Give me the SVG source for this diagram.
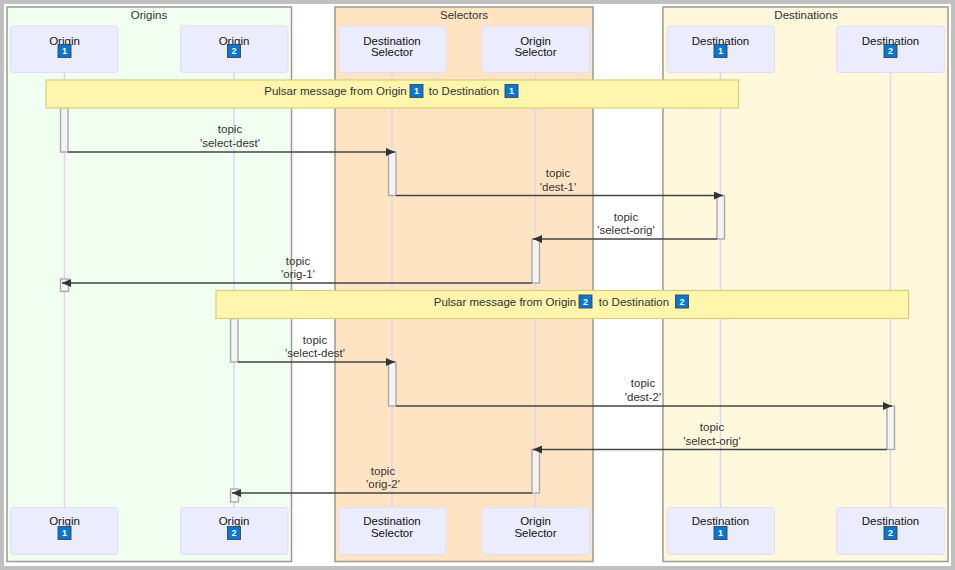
<svg xmlns="http://www.w3.org/2000/svg" width="955" height="570" viewBox="0 0 955 570">
<style>
text{font-family:"Liberation Sans","Noto Sans",sans-serif;font-size:11.5px;fill:#333;text-anchor:middle}
.box{stroke:#9a9a92;stroke-width:1.5}
.actor{fill:#ececff;stroke:#e0dcf5;stroke-width:1}
.actor-t{fill:#111}
.life{stroke:#ddd6f0;stroke-width:1.5;fill:none}
.note{fill:#fff5ad;stroke:#d4d07a;stroke-width:1.2}
.act{fill:#f4f4f4;stroke:#aaa;stroke-width:1.4}
.msg{stroke:#444;stroke-width:1.3;fill:none;marker-end:url(#arrow)}
.kc{fill:#0078d7;stroke:#444;stroke-width:.9}
.kd{fill:#fff;font-size:9px;font-weight:700}
</style>
<defs>
<marker id="arrow" markerUnits="userSpaceOnUse" markerWidth="10" markerHeight="8" refX="9" refY="4" orient="auto"><path d="M0 0L9 4L0 8z" fill="#333"/></marker>
<g id="k1"><rect class="kc" x="-6.500" y="-6.500" width="13" height="13"/><text class="kd" y="3.200">1</text></g>
<g id="k2"><rect class="kc" x="-6.500" y="-6.500" width="13" height="13"/><text class="kd" y="3.200">2</text></g>
</defs>
<rect x="2" y="2" width="951" height="566" fill="#fff" stroke="#c0c0c0" stroke-width="4"/>
<g id="box-origins"><rect class="box" x="7" y="7" width="284.500" height="554.500" fill="#f0fff0"/><text x="149" y="19">Origins</text></g>
<g id="box-selectors"><rect class="box" x="335" y="7" width="258" height="554.500" fill="#ffe4c4"/><text x="464" y="19">Selectors</text></g>
<g id="box-destinations"><rect class="box" x="663" y="7" width="285" height="554.500" fill="#fff8dc"/><text x="806" y="19">Destinations</text></g>
<g id="lifelines">
<path class="life" d="M64.500 72V508M234 72V508M392 72V508M535.500 72V508M720.500 72V508M890.500 72V508"/>
</g>
<g id="actor-origin1-top"><rect class="actor" x="10.500" y="26" width="107.500" height="46.500" rx="3"/><text class="actor-t" x="64.500" y="44.500">Origin</text><use href="#k1" x="64.500" y="51"/></g>
<g id="actor-origin2-top"><rect class="actor" x="180.500" y="26" width="107.500" height="46.500" rx="3"/><text class="actor-t" x="234" y="44.500">Origin</text><use href="#k2" x="234" y="51"/></g>
<g id="actor-destsel-top"><rect class="actor" x="338.500" y="26" width="107.500" height="46.500" rx="3"/><text class="actor-t" x="392" y="44.500">Destination</text><text class="actor-t" x="392" y="55.500">Selector</text></g>
<g id="actor-origsel-top"><rect class="actor" x="482" y="26" width="107.500" height="46.500" rx="3"/><text class="actor-t" x="535.500" y="44.500">Origin</text><text class="actor-t" x="535.500" y="55.500">Selector</text></g>
<g id="actor-dest1-top"><rect class="actor" x="667" y="26" width="107.500" height="46.500" rx="3"/><text class="actor-t" x="720.500" y="44.500">Destination</text><use href="#k1" x="720.500" y="51"/></g>
<g id="actor-dest2-top"><rect class="actor" x="836.500" y="26" width="108" height="46.500" rx="3"/><text class="actor-t" x="890.500" y="44.500">Destination</text><use href="#k2" x="890.500" y="51"/></g>
<g id="actor-origin1-bottom"><rect class="actor" x="10.500" y="507.500" width="107.500" height="47" rx="3"/><text class="actor-t" x="64.500" y="525">Origin</text><use href="#k1" x="64.500" y="533"/></g>
<g id="actor-origin2-bottom"><rect class="actor" x="180.500" y="507.500" width="107.500" height="47" rx="3"/><text class="actor-t" x="234" y="525">Origin</text><use href="#k2" x="234" y="533"/></g>
<g id="actor-destsel-bottom"><rect class="actor" x="338.500" y="507.500" width="107.500" height="47" rx="3"/><text class="actor-t" x="392" y="525">Destination</text><text class="actor-t" x="392" y="537">Selector</text></g>
<g id="actor-origsel-bottom"><rect class="actor" x="482" y="507.500" width="107.500" height="47" rx="3"/><text class="actor-t" x="535.500" y="525">Origin</text><text class="actor-t" x="535.500" y="537">Selector</text></g>
<g id="actor-dest1-bottom"><rect class="actor" x="667" y="507.500" width="107.500" height="47" rx="3"/><text class="actor-t" x="720.500" y="525">Destination</text><use href="#k1" x="720.500" y="533"/></g>
<g id="actor-dest2-bottom"><rect class="actor" x="836.500" y="507.500" width="108" height="47" rx="3"/><text class="actor-t" x="890.500" y="525">Destination</text><use href="#k2" x="890.500" y="533"/></g>
<g id="activations">
<rect class="act" x="60.500" y="108" width="7.500" height="44"/>
<rect class="act" x="388.500" y="152" width="7.500" height="43.500"/>
<rect class="act" x="717" y="195.500" width="7.500" height="43.500"/>
<rect class="act" x="532" y="239" width="7.500" height="44"/>
<rect class="act" x="60.500" y="279" width="8" height="12.500"/>
<rect class="act" x="230.500" y="318.500" width="7.500" height="43.500"/>
<rect class="act" x="388.500" y="362" width="7.500" height="44"/>
<rect class="act" x="887" y="406" width="7.500" height="43.500"/>
<rect class="act" x="532" y="449.500" width="7.500" height="43.500"/>
<rect class="act" x="230.500" y="489" width="8" height="13"/>
</g>
<g id="note-1"><rect class="note" x="46" y="80" width="692.500" height="28"/><text x="335.500" y="95">Pulsar message from Origin</text><use href="#k1" x="416.500" y="91"/><text x="464" y="95">to Destination</text><use href="#k1" x="511.500" y="91"/></g>
<g id="note-2"><rect class="note" x="216" y="290.500" width="692.500" height="28"/><text x="505" y="305.500">Pulsar message from Origin</text><use href="#k2" x="585.500" y="301.500"/><text x="634" y="305.500">to Destination</text><use href="#k2" x="682" y="301.500"/></g>
<g id="connectors">
<path class="msg" d="M68 152H395"/>
<path class="msg" d="M396 195.500H723"/>
<path class="msg" d="M717 239H533"/>
<path class="msg" d="M532 283H62"/>
<path class="msg" d="M238 362H395"/>
<path class="msg" d="M396 406H892"/>
<path class="msg" d="M887 449.500H533"/>
<path class="msg" d="M532 493H232"/>
</g>
<g id="labels">
<text x="230" y="133">topic</text><text x="230" y="147">'select-dest'</text>
<text x="558" y="177">topic</text><text x="558" y="191">'dest-1'</text>
<text x="626" y="221">topic</text><text x="626" y="234">'select-orig'</text>
<text x="298" y="265">topic</text><text x="298" y="278">'orig-1'</text>
<text x="315" y="344">topic</text><text x="315" y="357">'select-dest'</text>
<text x="643" y="387">topic</text><text x="643" y="401">'dest-2'</text>
<text x="712" y="431">topic</text><text x="712" y="445">'select-orig'</text>
<text x="383" y="475">topic</text><text x="383" y="488">'orig-2'</text>
</g>
</svg>
